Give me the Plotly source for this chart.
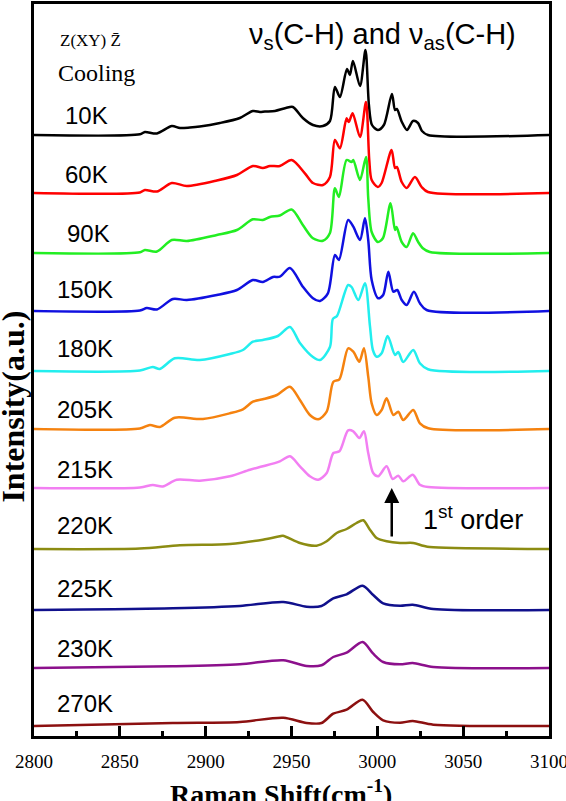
import plotly.graph_objects as go

# ---------------- data (wavenumber in cm^-1, intensity in a.u. above each baseline) -------------
labels = ["10K", "60K", "90K", "150K", "180K", "205K", "215K", "220K", "225K", "230K", "270K"]
colors = ["#000000", "#ff0000", "#22ee22", "#1010e0", "#22eeee", "#f5820f",
          "#f27ff2", "#8c8c12", "#10108c", "#8c108c", "#8c1010"]
offsets = [601, 543, 483, 425, 365, 307, 248, 187, 126, 68, 10]

wn_10K = [2800, 2861.7, 2864.6, 2871.6, 2880.3, 2885, 2890.8, 2896.6, 2908.3, 2919.9, 2927.5, 2931.6,
          2934.5, 2940.3, 2946.7, 2950.8, 2956.6, 2962.5, 2968.3, 2972.4, 2975.3, 2978.2, 2982.3, 2984,
          2985.8, 2989.9, 2993.1, 2995.1, 2996.9, 3000.3, 3003.8, 3008.5, 3010.3, 3011.4, 3014.3,
          3017.3, 3020.8, 3023.7, 3026, 3029.5, 3100]
in_10K = [0, 0.7, 3, 1.5, 9, 7, 7.5, 8.5, 12, 17, 24, 23, 23.5, 24, 27, 28, 17, 10, 9, 14, 48, 38, 66,
          60, 74, 49, 85, 30, 10, 5, 10, 41, 25, 26, 13, 5, 14, 12, 4, 0, 0]

wn_60K = [2800, 2861.7, 2864.6, 2871.6, 2880.3, 2889, 2906.5, 2918.2, 2927.5, 2933.3, 2937.4, 2943.2,
          2950.1, 2957.8, 2962.5, 2968.3, 2972.4, 2975.3, 2978.2, 2982.1, 2983.4, 2985.6, 2989.9,
          2993.4, 2995.3, 2996.7, 3000.3, 3002.5, 3008.3, 3010.3, 3011.4, 3014.2, 3017.1, 3021.9,
          3025.8, 3029.5, 3100]
in_60K = [0, 0.5, 3, 1.5, 10, 7, 12.5, 18, 27, 25, 27, 27, 33, 19.7, 10, 8, 16, 53, 44.7, 74.7, 71,
          79.7, 56, 91, 33, 13, 6, 10, 43, 25, 26, 11, 5, 16, 6, 1, 0]

wn_90K = [2800, 2861.7, 2864.6, 2871.6, 2880.3, 2889, 2906.5, 2918.2, 2927.5, 2933.3, 2937.4, 2943.2,
          2950.1, 2956.6, 2962.5, 2968.3, 2972.4, 2975.3, 2977.6, 2982.1, 2985, 2986, 2989.9, 2993.4,
          2994.7, 2996.7, 3000.3, 3003.3, 3007.7, 3010.3, 3011.2, 3014.2, 3017.1, 3020.8, 3023.8,
          3026.5, 3030.6, 3100]
in_90K = [0, 0.7, 3, 1.5, 13, 12, 18, 23, 33.7, 33, 36, 37.5, 43.5, 28, 14.7, 12.3, 20, 64.7, 56, 93,
          91, 93, 73, 96, 55, 21, 11, 15, 49.7, 23, 26, 11, 6, 19.7, 11, 4.7, 1, 0]

wn_150K = [2800, 2861.7, 2865.7, 2871.6, 2880.9, 2889, 2906.5, 2918.2, 2927.5, 2933.3, 2939.2,
           2943.2, 2949.1, 2956.6, 2962.5, 2966.6, 2971.2, 2975.3, 2977.6, 2983, 2986, 2989.9, 2992.8,
           2994.7, 2996.7, 3000.5, 3003.4, 3006.4, 3009.3, 3011.6, 3014.2, 3017.1, 3021.3, 3024.8,
           3028.7, 3100]
in_150K = [0, 0.5, 3, 1.5, 12, 11, 16, 21, 31, 29, 34, 34.3, 43, 24.3, 12.7, 10, 17.7, 56, 51, 91,
           84.3, 71, 92.7, 71, 31, 12.7, 16, 39.3, 19.3, 21, 11, 6, 19.3, 7.7, 1, 0]

wn_180K = [2800, 2861.7, 2869.2, 2873.3, 2882, 2896.6, 2914.1, 2921.7, 2927.5, 2933.3, 2942.1,
           2949.1, 2954.9, 2962.5, 2966.6, 2972.4, 2974.1, 2976.5, 2983, 2985, 2988.9, 2992.8,
           2995.7, 2997.4, 2999.6, 3002.5, 3006, 3010.3, 3012.2, 3015.1, 3020.9, 3024.8, 3029.5, 3100]
in_180K = [0, 0.5, 4, 2, 12.7, 11, 17, 21, 29.3, 31, 35, 44, 28, 14, 11, 24, 52, 55, 86, 84, 71,
           87.7, 45, 21, 14.3, 17.7, 35, 16, 19, 9, 21, 7.7, 1.7, 0]

wn_205K = [2800, 2861.7, 2867.5, 2873.3, 2882, 2898.4, 2914.1, 2921.7, 2927.5, 2933.3, 2941.5,
           2949.1, 2954.9, 2960.7, 2965.6, 2970.5, 2974.4, 2977.9, 2983, 2986, 2989.5, 2992.2,
           2994.7, 2996.7, 2999.6, 3002.5, 3005.4, 3009.3, 3012.2, 3015.1, 3020.9, 3024.8, 3029.7, 3100]
in_205K = [0, 0.5, 4, 2, 11.3, 10, 15.7, 19.7, 27.3, 29.7, 34, 42.3, 29, 14, 9.7, 17.3, 47.3, 49.7,
           80.7, 77.3, 67.3, 80.7, 52.3, 25.7, 14, 19, 30.7, 14, 17.3, 9, 19, 5.7, 0.7, 0]

wn_215K = [2800, 2861.7, 2869.2, 2875, 2883.2, 2896.6, 2914.1, 2925.8, 2933.3, 2943.2, 2949.1,
           2954.9, 2960.7, 2965.6, 2970.5, 2974.4, 2977.9, 2983, 2986, 2989.5, 2992.2, 2994.7,
           2997.6, 3000.5, 3005.4, 3008.9, 3012.2, 3015.1, 3020.6, 3024.8, 3029.7, 3100]
in_215K = [0, 0.5, 3, 1.5, 8.3, 7.3, 11.7, 18.3, 21.7, 26.7, 31.7, 21.7, 11.7, 8.3, 15, 35, 36.7,
           57.7, 56.7, 50, 56.7, 35, 15, 11.7, 21.7, 9, 12.3, 6.7, 13.3, 3.3, 1, 0]

wn_220K = [2800, 2861.7, 2885, 2914.1, 2933.3, 2943.2, 2945, 2954.9, 2964.6, 2970.5, 2976.3, 2982.1,
           2987.9, 2991.8, 2995.7, 2999.6, 3005.4, 3013.2, 3020.9, 3026.7, 3030.6, 3100]
in_220K = [0, 0.5, 3.7, 5, 9.3, 12.7, 13.3, 6, 3.3, 7.7, 16, 20, 26, 28.7, 19.3, 11, 7.7, 6, 6, 3.3,
           2, 0]

wn_225K = [2800, 2880.9, 2919.9, 2945.2, 2958.8, 2967.5, 2974.3, 2982.1, 2991.4, 2997.6, 3003.4,
           3013.2, 3020.6, 3032.6, 3100]
in_225K = [0, 1.7, 4, 8, 3.3, 4, 11.7, 15.7, 24.3, 15, 6.7, 4.3, 5.3, 1, 0]

wn_230K = [2800, 2880.9, 2919.9, 2945.2, 2958.8, 2967.5, 2974.3, 2982.1, 2991.4, 2997.6, 3003.4,
           3013.2, 3020.6, 3032.6, 3100]
in_230K = [0, 1.7, 3.7, 7.7, 2, 2.7, 11, 15.3, 26, 14.3, 6, 3.7, 5, 1, 0]

wn_270K = [2800, 2880.9, 2919.9, 2945.2, 2958.8, 2967.5, 2974.3, 2982.1, 2991.4, 2997.6, 3003.4,
           3013.2, 3020.6, 3032.6, 3100]
in_270K = [0, 3, 4, 8.3, 3, 3, 12.3, 16.3, 26.3, 14, 5.7, 3.3, 5, 1.3, 0]

wavenumbers = [wn_10K, wn_60K, wn_90K, wn_150K, wn_180K, wn_205K, wn_215K, wn_220K, wn_225K, wn_230K, wn_270K]
intensities = [in_10K, in_60K, in_90K, in_150K, in_180K, in_205K, in_215K, in_220K, in_225K, in_230K, in_270K]

x_ticks = [2800, 2850, 2900, 2950, 3000, 3050, 3100]

# label anchor positions (data coords)
label_x = [2817, 2817, 2818, 2812, 2812, 2812, 2812, 2812, 2812, 2812, 2812]
label_y = [621, 562, 503, 447, 388, 327, 267, 211, 148, 88, 33]

SERIF = "Liberation Serif, Times New Roman, serif"
SANS = "Liberation Sans, Arial, sans-serif"

fig = go.Figure()
for wn, inten, off, col in zip(wavenumbers, intensities, offsets, colors):
    fig.add_trace(go.Scatter(
        x=wn, y=[v + off for v in inten], mode="lines",
        line=dict(color=col, width=2.5, shape="spline", smoothing=0.8),
        showlegend=False, hoverinfo="skip"))

annotations = []
for lab, lx, ly in zip(labels, label_x, label_y):
    annotations.append(dict(x=lx, y=ly, xref="x", yref="y", text=lab, showarrow=False,
                            xanchor="left", yanchor="middle",
                            font=dict(family=SANS, size=24, color="black")))

annotations += [
    dict(x=2814, y=696, xref="x", yref="y", text="Z(XY) Z\u0304", showarrow=False,
         xanchor="left", yanchor="middle", font=dict(family=SERIF, size=17, color="black")),
    dict(x=2813, y=663, xref="x", yref="y", text="Cooling", showarrow=False,
         xanchor="left", yanchor="middle", font=dict(family=SERIF, size=24, color="black")),
    dict(x=3003, y=700, xref="x", yref="y",
         text="\u03bd<sub>s</sub>(C-H) and \u03bd<sub>as</sub>(C-H)", showarrow=False,
         xanchor="center", yanchor="middle", font=dict(family=SANS, size=29, color="black")),
    dict(x=3056, y=218, xref="x", yref="y", text="1<sup>st</sup> order", showarrow=False,
         xanchor="center", yanchor="middle", font=dict(family=SANS, size=27, color="black")),
    # arrow marking the first-order transition
    dict(x=3008.4, y=248, ax=3008.4, ay=198, xref="x", yref="y", axref="x", ayref="y",
         text="", showarrow=True, arrowhead=2, arrowsize=1.2, arrowwidth=2.5, arrowcolor="black"),
    dict(x=-0.0408, y=0.45, xref="paper", yref="paper", text="<b>Intensity(a.u.)</b>",
         showarrow=False, textangle=-90, xanchor="center", yanchor="middle",
         font=dict(family=SERIF, size=32, color="black")),
    dict(x=0.48, y=-0.050, xref="paper", yref="paper", text="<b>Raman Shift(cm<sup>-1</sup>)</b>",
         showarrow=False, xanchor="center", yanchor="top",
         font=dict(family=SERIF, size=28, color="black")),
]

fig.update_layout(
    width=566, height=801,
    margin=dict(l=34, r=17, t=4, b=65, autoexpand=False),
    paper_bgcolor="white", plot_bgcolor="white",
    annotations=annotations,
    xaxis=dict(range=[2800, 3100], tickvals=x_ticks, ticks="inside", ticklen=10, tickwidth=2.5,
               tickcolor="black", showline=True, linewidth=3, linecolor="black", mirror=True,
               showgrid=False, zeroline=False, ticklabeloverflow="allow", ticklabelstandoff=6,
               automargin=False,
               minor=dict(ticks="inside", ticklen=5, tickwidth=2.5, tickcolor="black", dtick=25,
                          tick0=2800, showgrid=False),
               tickfont=dict(family=SERIF, size=19, color="black")),
    yaxis=dict(range=[0, 732], showticklabels=False, ticks="", showline=True, linewidth=3,
               linecolor="black", mirror=True, showgrid=False, zeroline=False, automargin=False),
)

fig.write_html("out.html")
